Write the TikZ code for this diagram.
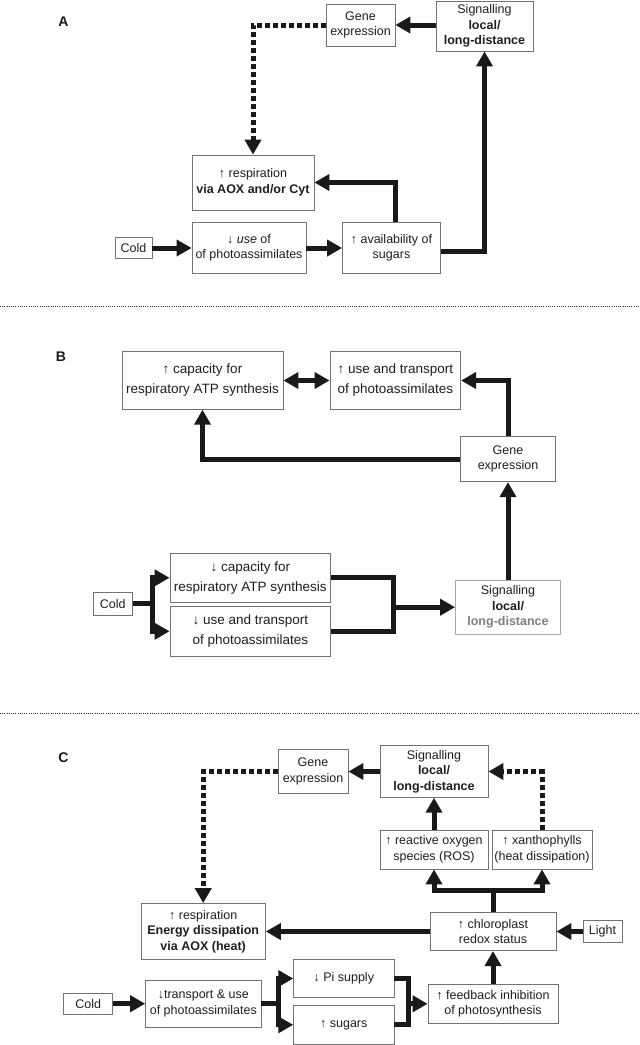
\documentclass[tikz,border=0pt]{standalone}
\usepackage{fontspec}
\setmainfont{Liberation Sans}
\usetikzlibrary{arrows.meta}
\tikzset{
 box/.style={draw=black!55, line width=0.8pt, fill=white, text=black!88, align=center, inner sep=0pt, font=\fontsize{12.5pt}{15.5pt}\selectfont},
 bigtext/.style={font=\fontsize{13.5pt}{20pt}\selectfont},
 conn/.style={line width=5pt, draw=black!90},
 arr/.style={conn, -{Triangle[length=15pt,width=16pt]}},
 dots/.style={conn, dash pattern=on 5pt off 3pt},
 darr/.style={dots, -{Triangle[length=15pt,width=16pt]}},
 biarr/.style={conn, {Triangle[length=15pt,width=16pt]}-{Triangle[length=15pt,width=16pt]}},
 sep/.style={line width=1pt, dash pattern=on 1pt off 1.2pt, draw=black!80},
 panel/.style={font=\fontsize{14pt}{16pt}\selectfont\bfseries, text=black!90},
}
\begin{document}
\begin{tikzpicture}[x=1pt,y=-1pt]
\useasboundingbox (0,0) rectangle (640,1045);
% separators
\coordinate (s1l) at (0,306); \coordinate (s1r) at (640,306);
\coordinate (s2l) at (0,713); \coordinate (s2r) at (640,713);
\draw[sep] (s1l) -- (s1r);
\draw[sep] (s2l) -- (s2r);
% ---------------- A
\node[panel] (labA) at (63.5,22) {A};
\node[box, minimum width=69pt, minimum height=42pt] (geneA) at (360.5,25) {Gene\\expression};
\node[box, minimum width=97pt, minimum height=50pt] (sigA) at (484.5,26) {Signalling\\\textbf{local/}\\\textbf{long-distance}};
\node[box, minimum width=122pt, minimum height=55pt] (respA) at (253,182.5) {↑ respiration\\\textbf{via AOX and/or Cyt}};
\node[box, minimum width=37pt, minimum height=21pt] (coldA) at (133.5,248) {Cold};
\node[box, minimum width=114pt, minimum height=51pt] (useA) at (249,248) {↓ \textit{use} of\\of photoassimilates};
\node[box, minimum width=98pt, minimum height=51pt] (availA) at (391.5,248) {↑ availability of\\sugars};
\draw[arr] (sigA.west |- geneA) -- (geneA.east);
\draw[darr] (geneA.west) -| (respA.north);
\draw[arr] ([xshift=3.5pt]availA.north) |- (respA.east);
\draw[arr] ([yshift=-3pt]availA.east) -| (sigA.south);
\draw[arr] (coldA.east) -- (useA.west);
\draw[arr] (useA.east) -- (availA.west);
% ---------------- B
\node[panel] (labB) at (61,357) {B};
\node[box, bigtext, minimum width=161pt, minimum height=57.6pt] (capUp) at (202.5,380.5) {↑ capacity for\\respiratory ATP synthesis};
\node[box, bigtext, minimum width=130.7pt, minimum height=57.6pt] (useUp) at (395.3,380.5) {↑ use and transport\\of photoassimilates};
\node[box, minimum width=95.3pt, minimum height=45.4pt] (geneB) at (508,459) {Gene\\expression};
\node[box, bigtext, minimum width=160.7pt, minimum height=49pt] (capDown) at (250.3,577.8) {↓ capacity for\\respiratory ATP synthesis};
\node[box, bigtext, minimum width=160.7pt, minimum height=49.3pt] (useDown) at (250.3,631.3) {↓ use and transport\\of photoassimilates};
\node[box, minimum width=39.5pt, minimum height=22.3pt] (coldB) at (112.7,603.8) {Cold};
\node[box, draw=black!35, minimum width=105pt, minimum height=54.3pt] (sigB) at (508,607.2) {Signalling\\\textbf{local/}\\\textbf{\color{black!50}long-distance}};
\coordinate (forkB) at (152,603.8);
\coordinate (mergeB) at (393.4,607.2);
\draw[biarr] (capUp.east) -- (useUp.west);
\draw[arr] (geneB.north) |- (useUp.east);
\draw[arr] (geneB.west) -| (capUp.south);
\draw[arr] (sigB.north) -- (geneB.south);
\draw[conn] (coldB.east) -- (forkB);
\draw[arr] (forkB) |- (capDown.west);
\draw[arr] (forkB) |- (useDown.west);
\draw[conn] (capDown.east) -| (mergeB);
\draw[conn] (useDown.east) -| (mergeB);
\draw[arr] (mergeB) -- (sigB.west);
% ---------------- C
\node[panel] (labC) at (63.5,758) {C};
\node[box, minimum width=70pt, minimum height=43.3pt] (geneC) at (313,771.5) {Gene\\expression};
\node[box, minimum width=108pt, minimum height=51.6pt] (sigC) at (434,771.5) {Signalling\\\textbf{local/}\\\textbf{long-distance}};
\node[box, minimum width=108pt, minimum height=39pt] (rosC) at (434,849.5) {↑ reactive oxygen\\species (ROS)};
\node[box, minimum width=100pt, minimum height=39pt] (xanC) at (542,849.5) {↑ xanthophylls\\(heat dissipation)};
\node[box, minimum width=124.4pt, minimum height=56pt] (respC) at (203.2,931.5) {↑ respiration\\\textbf{Energy dissipation}\\\textbf{via AOX (heat)}};
\node[box, minimum width=126pt, minimum height=38.3pt] (chlC) at (493,931.5) {↑ chloroplast\\redox status};
\node[box, minimum width=39pt, minimum height=22.3pt] (lightC) at (602.5,931.5) {Light};
\node[box, minimum width=49.2pt, minimum height=20.7pt] (coldC) at (88.2,1003.7) {Cold};
\node[box, minimum width=115.4pt, minimum height=47.3pt] (transC) at (203.3,1003.7) {↓transport \& use\\of photoassimilates};
\node[box, minimum width=100.3pt, minimum height=38.4pt] (piC) at (343.8,978.5) {↓ Pi supply};
\node[box, minimum width=100.3pt, minimum height=38.3pt] (sugC) at (343.8,1024.8) {↑ sugars};
\node[box, minimum width=130pt, minimum height=39pt] (fbC) at (493,1003.8) {↑ feedback inhibition\\of photosynthesis};
\coordinate (splitC) at (493,890);
\coordinate (forkC) at (278.7,1003.7);
\coordinate (mergeC) at (408,1003.8);
\draw[arr] (sigC.west) -- (geneC.east);
\draw[darr] (geneC.west) -| (respC.north);
\draw[darr] (xanC.north) |- (sigC.east);
\draw[arr] (rosC.north) -- (sigC.south);
\draw[conn] (chlC.north) -- (splitC);
\draw[arr] (splitC) -| (rosC.south);
\draw[arr] (splitC) -| (xanC.south);
\draw[arr] (chlC.west) -- (respC.east);
\draw[arr] (lightC.west) -- (chlC.east);
\draw[arr] (fbC.north) -- (chlC.south);
\draw[arr] (coldC.east) -- (transC.west);
\draw[conn] (transC.east) -- (forkC);
\draw[arr] (forkC) |- (piC.west);
\draw[arr] (forkC) |- (sugC.west);
\draw[conn] (piC.east) -| (mergeC);
\draw[conn] (sugC.east) -| (mergeC);
\draw[arr] (mergeC) -- (fbC.west);
\end{tikzpicture}
\end{document}
